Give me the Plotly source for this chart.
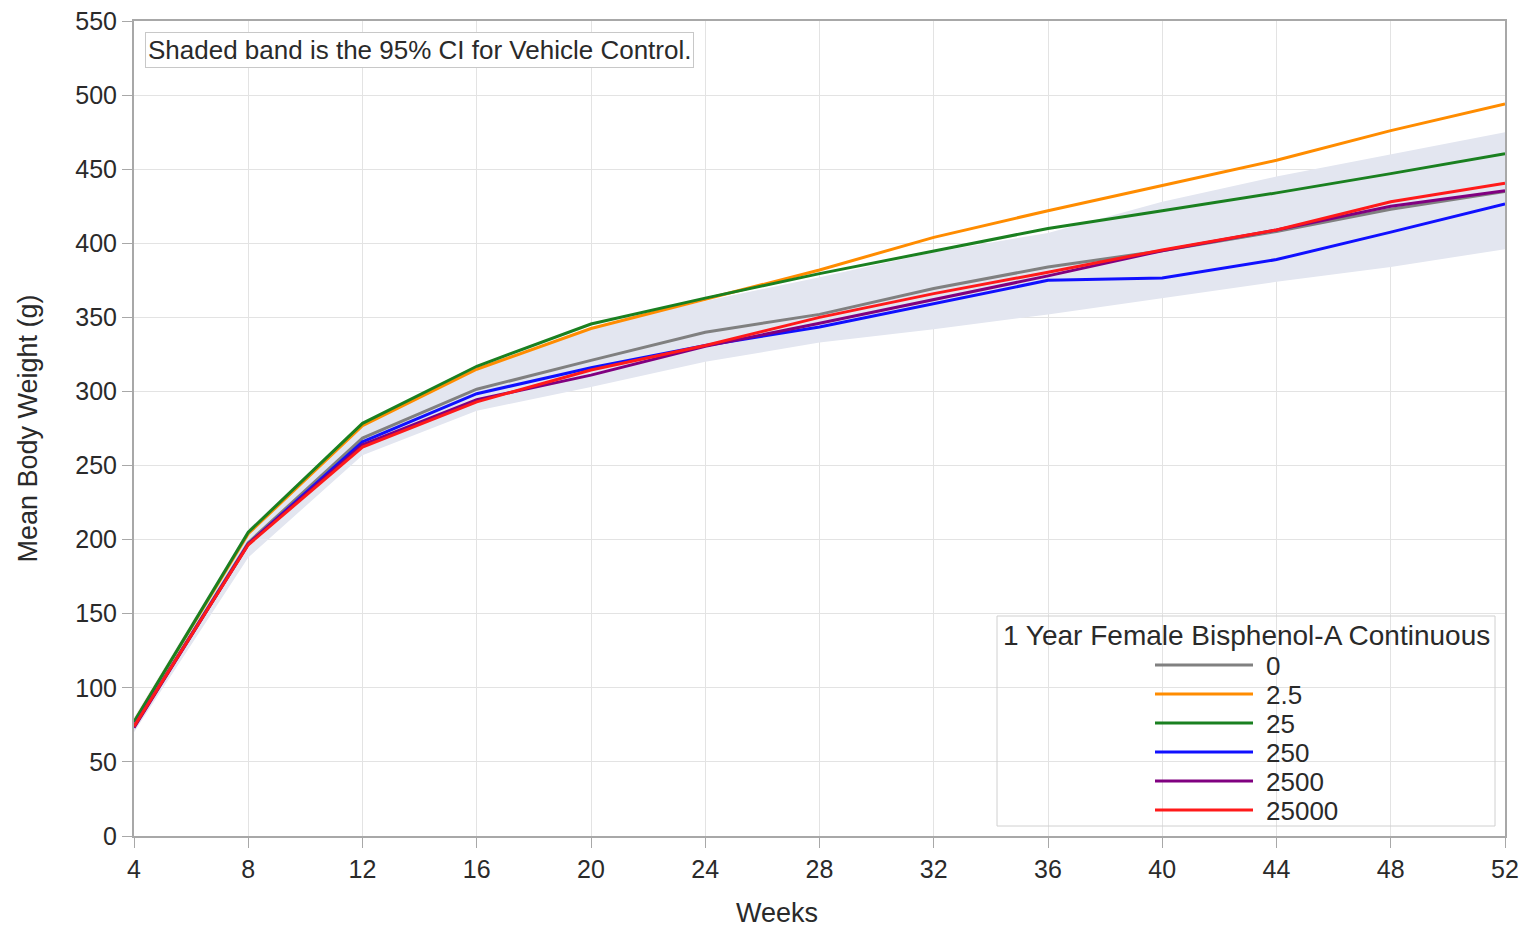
import plotly.graph_objects as go

weeks = [4, 8, 12, 16, 20, 24, 28, 32, 36, 40, 44, 48, 52]

dose_labels = ["0", "2.5", "25", "250", "2500", "25000"]
dose_colors = ["#808080", "#ff8c00", "#1a8020", "#1010ff", "#800080", "#ff1a1a"]

bw_0 = [74, 198, 268.5, 301.5, 321, 340, 352, 369.5, 384, 395, 408, 423, 435]
bw_2_5 = [77, 204, 277, 315, 342.5, 362, 382, 404, 422, 439, 456, 476, 494]
bw_25 = [77, 205, 278.5, 317, 345.5, 363, 379.5, 395, 410, 422, 434, 447, 460.5]
bw_250 = [74, 197, 266, 298.5, 316, 331, 343.5, 359.5, 375, 376.5, 389, 407.5, 426.5]
bw_2500 = [73, 197, 264, 294.5, 311, 330.5, 346, 362, 378, 395, 409, 425, 435.5]
bw_25000 = [74, 196.5, 262.5, 293, 314.5, 331, 350, 366, 380.5, 395.5, 409, 428, 440.5]

ci_upper = [80, 207, 279, 316, 343, 361, 377, 394, 407, 428, 445, 460, 475]
ci_lower = [70, 188, 257, 287, 303, 320, 333, 342, 352, 363, 374, 384, 396]

series = [bw_0, bw_2_5, bw_25, bw_250, bw_2500, bw_25000]

FONT = "Liberation Sans, Arial, sans-serif"
TXT = "#2a2a2a"

fig = go.Figure()

# 95% CI band for vehicle control
fig.add_trace(go.Scatter(x=weeks, y=ci_upper, mode="lines", line=dict(width=0),
                         showlegend=False, hoverinfo="skip"))
fig.add_trace(go.Scatter(x=weeks, y=ci_lower, mode="lines", line=dict(width=0),
                         fill="tonexty", fillcolor="#e3e6f0",
                         showlegend=False, hoverinfo="skip"))

for lab, col, ys in zip(dose_labels, dose_colors, series):
    fig.add_trace(go.Scatter(x=weeks, y=ys, mode="lines", name=lab,
                             line=dict(color=col, width=3), showlegend=False))

# plot geometry in pixels
W, H = 1528, 929
L, R, T, B = 134, 23, 21, 93
pw = W - L - R
ph = H - T - B

def px(xp):
    return (xp - L) / pw

def py(yp):
    return (H - B - yp) / ph

annotations = []
shapes = []

# note box
annotations.append(dict(x=px(145), y=py(32), xref="paper", yref="paper",
                        xanchor="left", yanchor="top", showarrow=False,
                        text="Shaded band is the 95% CI for Vehicle Control.",
                        font=dict(family=FONT, size=26, color=TXT),
                        bordercolor="#c8c8c8", borderwidth=1, borderpad=2,
                        bgcolor="white"))

# x title
annotations.append(dict(x=px(777), y=py(913), xref="paper", yref="paper",
                        xanchor="center", yanchor="middle", showarrow=False,
                        text="Weeks", font=dict(family=FONT, size=27, color=TXT)))

# legend (drawn manually to match layout)
shapes.append(dict(type="rect", xref="paper", yref="paper",
                   x0=px(997), x1=px(1495), y0=py(826), y1=py(616),
                   line=dict(color="#d0d0d0", width=1), fillcolor="rgba(255,255,255,0)"))
annotations.append(dict(x=px(1246), y=py(635), xref="paper", yref="paper",
                        xanchor="center", yanchor="middle", showarrow=False,
                        text="1 Year Female Bisphenol-A Continuous",
                        font=dict(family=FONT, size=28, color=TXT)))
for i, (lab, col) in enumerate(zip(dose_labels, dose_colors)):
    yy = 665 + 29 * i
    shapes.append(dict(type="line", xref="paper", yref="paper",
                       x0=px(1155), x1=px(1253), y0=py(yy), y1=py(yy),
                       line=dict(color=col, width=3)))
    annotations.append(dict(x=px(1264), y=py(yy + 1), xref="paper", yref="paper",
                            xanchor="left", yanchor="middle", showarrow=False,
                            text=lab, font=dict(family=FONT, size=26, color=TXT)))

fig.update_layout(
    width=W, height=H,
    margin=dict(l=L, r=R, t=T, b=B, autoexpand=False),
    paper_bgcolor="white", plot_bgcolor="white",
    font=dict(family=FONT, color=TXT),
    annotations=annotations, shapes=shapes,
    showlegend=False,
)

fig.update_xaxes(range=[4, 52], tickmode="array", tickvals=weeks,
                 ticktext=[str(w) for w in weeks],
                 showgrid=True, gridcolor="#e3e3e3", gridwidth=1,
                 showline=True, linecolor="#a8a8a8", linewidth=2, mirror=True,
                 ticks="outside", ticklen=10, tickcolor="#a8a8a8", tickwidth=1,
                 tickfont=dict(family=FONT, size=25, color=TXT),
                 zeroline=False, automargin=False)
fig.update_yaxes(range=[0, 550], tickmode="linear", tick0=0, dtick=50,
                 showgrid=True, gridcolor="#e3e3e3", gridwidth=1,
                 showline=True, linecolor="#a8a8a8", linewidth=2, mirror=True,
                 ticks="outside", ticklen=10, tickcolor="#a8a8a8", tickwidth=1,
                 tickfont=dict(family=FONT, size=25, color=TXT),
                 title=dict(text="Mean Body Weight (g)", standoff=30,
                            font=dict(family=FONT, size=27, color=TXT)),
                 zeroline=False, automargin=False)

fig.write_html("out.html")
